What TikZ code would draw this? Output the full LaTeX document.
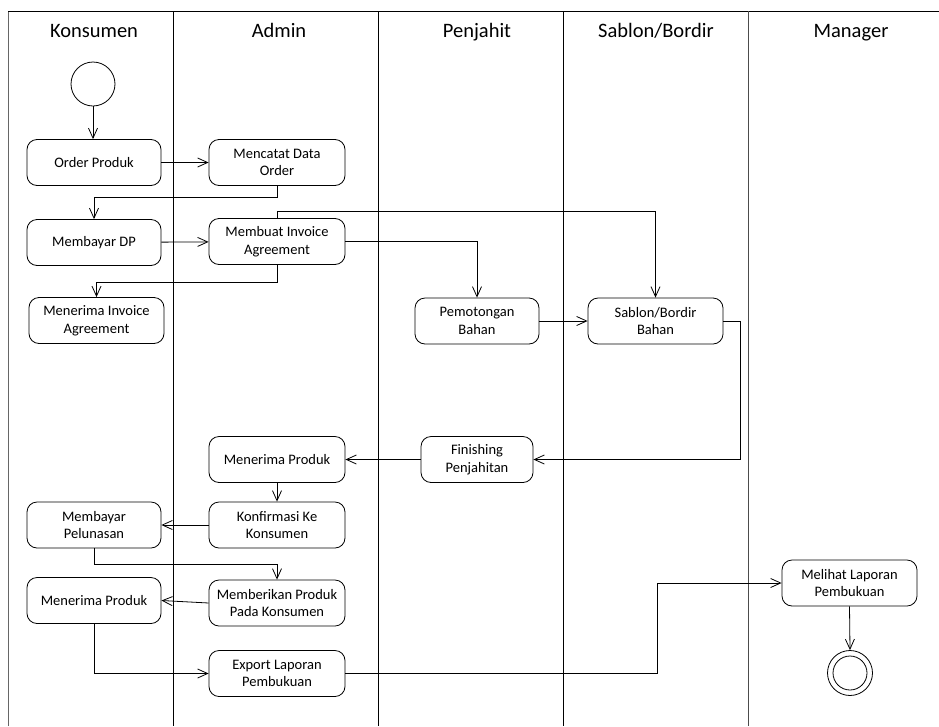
\documentclass[tikz,border=0pt]{standalone}
\usepackage{fontspec}
\setmainfont{Carlito}
\usetikzlibrary{arrows.meta}
\begin{document}
\begin{tikzpicture}[x=1pt,y=-1pt,
  act/.style={draw, rounded corners=10pt, line width=0.8pt, align=center,
    minimum width=136pt, minimum height=46pt, inner sep=0pt,
    font=\fontsize{14.5}{17.7}\selectfont},
  flow/.style={line width=0.8pt, -{Straight Barb[length=10pt,width=9pt,line width=0.8pt]}},
  lane/.style={line width=0.8pt},
  head/.style={anchor=base, inner sep=0pt, font=\fontsize{20.5}{24}\selectfont},
  initial/.style={draw, circle, line width=0.8pt, minimum size=44pt, inner sep=0pt},
  final/.style={draw, circle, line width=0.8pt, minimum size=45pt, inner sep=0pt}]
\useasboundingbox (0,0) rectangle (939,726);

% swimlane frame
\draw[lane, black!60] (8,726) -- (8,11);
\draw[lane] (8,11) -- (939,11);
\draw[lane] (173,11) -- (173,726);
\draw[lane] (378,11) -- (378,726);
\draw[lane] (563,11) -- (563,726);
\draw[lane, black!70] (748,11) -- (748,726);

% lane titles
\node[head] (hkons) at (94,37) {Konsumen};
\node[head] (hadm)  at (279,37) {Admin};
\node[head] (hpenj) at (477,37) {Penjahit};
\node[head] (hsab)  at (656,37) {Sablon/Bordir};
\node[head] (hman)  at (851,37) {Manager};

% activities
\node[initial] (start) at (93,84) {};
\node[act, minimum width=134pt] (order)   at (94,162.5)  {Order Produk};
\node[act] (catat)   at (277,162.5) {Mencatat Data\\Order};
\node[act, minimum width=134pt] (dp)      at (94,242.5)  {Membayar DP};
\node[act] (inv)     at (277,241.5) {Membuat Invoice\\Agreement};
\node[act, minimum width=135pt] (terimainv) at (96.5,320.5) {Menerima Invoice\\Agreement};
\node[act, minimum width=124pt] (potong)  at (477,321)   {Pemotongan\\Bahan};
\node[act, minimum width=135pt] (sab)     at (655.5,321) {Sablon/Bordir\\Bahan};
\node[act, minimum width=112pt] (finish)  at (477,459.5) {Finishing\\Penjahitan};
\node[act] (terimaA) at (277,459.5) {Menerima Produk};
\node[act] (konf)    at (277,525)   {Konfirmasi Ke\\Konsumen};
\node[act, minimum width=134pt] (lunas)   at (94,525)    {Membayar\\Pelunasan};
\node[act] (beri)    at (277,603)   {Memberikan Produk\\Pada Konsumen};
\node[act, minimum width=134pt] (terimaK) at (94,600.5)  {Menerima Produk};
\node[act] (export)  at (277,673.5) {Export Laporan\\Pembukuan};
\node[act, minimum width=135pt] (lihat)   at (849.5,583) {Melihat Laporan\\Pembukuan};
\node[final] (end) at (850,673) {};
\draw[line width=0.8pt] (end.center) circle[radius=17pt];

% control flow
\draw[flow] (start.south) -- (start.south |- order.north);
\draw[flow] (order) -- (catat);
\draw[flow] (catat.south) -- ++(0,11) -| (dp.north);
\draw[flow] (dp) -- (inv);
\draw[flow] (inv.north) -- ++(0,-7) -| (sab.north);
\draw[flow] (inv.east) -| (potong.north);
\draw[flow] (inv.south) -- ++(0,17) -| (terimainv.north);
\draw[flow] (potong) -- (sab);
\draw[flow] (sab.east) -- ++(17,0) |- (finish.east);
\draw[flow] (finish) -- (terimaA);
\draw[flow] (terimaA) -- (konf);
\draw[flow] (konf) -- (lunas);
\draw[flow] (lunas.south) -- ++(0,16) -| (beri.north);
\draw[flow] (beri.west) -- (terimaK.east);
\draw[flow] (terimaK.south) |- (export.west);
\draw[flow] (export.east) -- ++(312,0) |- (lihat.west);
\draw[flow] (lihat.south) -- (end.north);
\end{tikzpicture}
\end{document}
